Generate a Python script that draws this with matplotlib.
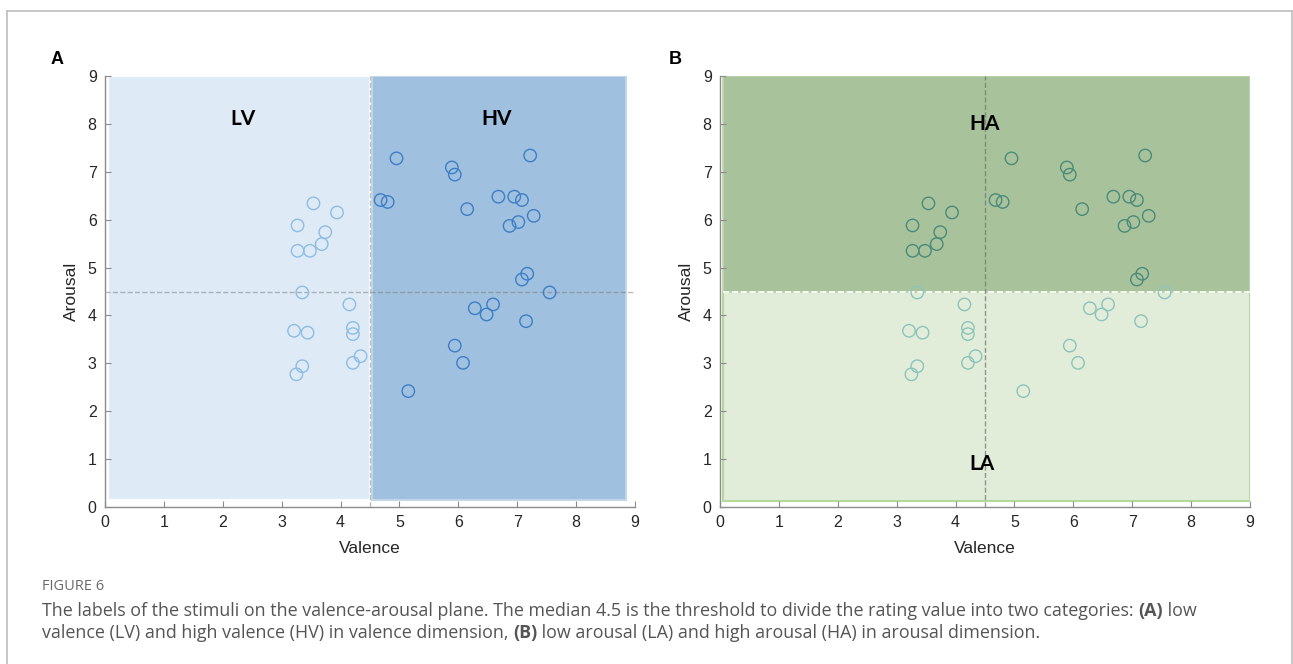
import matplotlib
matplotlib.use('Agg')
import matplotlib.pyplot as plt
from matplotlib.patches import Rectangle
from matplotlib.lines import Line2D

# Оценки стимулов (valence, arousal)
valence = [3.54, 3.94, 3.27, 3.74, 3.68, 3.27, 3.48, 3.35, 4.15, 3.21,
           3.44, 4.21, 4.21, 4.34, 4.21, 3.35, 3.25, 5.15, 4.95, 5.89,
           5.94, 7.22, 4.68, 4.80, 6.15, 6.68, 6.95, 7.08, 7.28, 6.87,
           7.02, 7.17, 7.08, 7.55, 6.59, 6.28, 6.48, 7.15, 5.94, 6.08]
arousal = [6.34, 6.15, 5.88, 5.74, 5.49, 5.35, 5.35, 4.48, 4.23, 3.68,
           3.64, 3.74, 3.61, 3.15, 3.01, 2.94, 2.77, 2.42, 7.28, 7.09,
           6.94, 7.34, 6.41, 6.37, 6.22, 6.48, 6.48, 6.41, 6.08, 5.87,
           5.95, 4.87, 4.75, 4.48, 4.23, 4.15, 4.02, 3.88, 3.37, 3.01]
threshold = 4.5
ticks = list(range(10))

W, H = 1293, 664
fig = plt.figure(figsize=(W / 100, H / 100), dpi=100)

# Рамка вокруг рисунка
frame = dict(color='#bdbdbd', linewidth=1.2, transform=fig.transFigure)
fig.add_artist(Line2D([7 / W, 1292 / W], [1 - 11 / H] * 2, **frame))
fig.add_artist(Line2D([7 / W] * 2, [0, 1 - 11 / H], **frame))
fig.add_artist(Line2D([1292 / W] * 2, [0, 1 - 11 / H], **frame))


def setup_axes(ax):
    ax.set_xlim(0, 9)
    ax.set_ylim(0, 9)
    ax.set_xticks(ticks)
    ax.set_yticks(ticks)
    for s in ['top', 'right']:
        ax.spines[s].set_visible(False)
    for s in ['left', 'bottom']:
        ax.spines[s].set_color('#8c8c8c')
        ax.spines[s].set_linewidth(1.0)
    ax.tick_params(direction='in', length=4, color='#8c8c8c', labelsize=11.5,
                   labelcolor='#262626', pad=6)
    for lab in ax.get_xticklabels() + ax.get_yticklabels():
        lab.set_family('Liberation Sans')
    ax.set_xlabel('Valence', fontsize=12.5, family='Liberation Sans', color='#262626', labelpad=8)
    ax.set_ylabel('Arousal', fontsize=12.5, family='Liberation Sans', color='#262626', labelpad=6)


ax_l = 105 / W
ax_b = 1 - 507 / H
ax_w = 530 / W
ax_h = 431 / H

# Панель A: разделение по валентности
ax1 = fig.add_axes([ax_l, ax_b, ax_w, ax_h])
setup_axes(ax1)
ax1.add_patch(Rectangle((0.05, 0.15), threshold - 0.05, 8.85, facecolor='#deebf6',
                        edgecolor='white', linewidth=1.5, zorder=0))
ax1.add_patch(Rectangle((threshold + 0.04, 0.15), 8.85 - threshold - 0.04, 8.85, facecolor='#9fc0de',
                        edgecolor='#c3d7ea', linewidth=1.5, zorder=0))
ax1.axvline(threshold, color='#bcbcbc', linestyle='--', linewidth=1, zorder=1)
ax1.axhline(threshold, color='#808080', alpha=0.55, linestyle='--', linewidth=1, zorder=1)
low_v = [(v, a) for v, a in zip(valence, arousal) if v < threshold]
high_v = [(v, a) for v, a in zip(valence, arousal) if v >= threshold]
ax1.scatter([p[0] for p in low_v], [p[1] for p in low_v], s=80, facecolors='none',
            edgecolors='#8dbce4', linewidths=1.0, zorder=3)
ax1.scatter([p[0] for p in high_v], [p[1] for p in high_v], s=80, facecolors='none',
            edgecolors='#3d7ec6', linewidths=1.0, zorder=3)
ax1.text(2.35, 8.1, 'LV', fontsize=15, fontweight='bold', family='Lato', ha='center', va='center')
ax1.text(6.65, 8.1, 'HV', fontsize=15, fontweight='bold', family='Lato', ha='center', va='center')
fig.text(57 / W, 1 - 60 / H, 'A', fontsize=13, fontweight='bold', family='Liberation Sans',
         ha='center', va='center')

# Панель B: разделение по возбуждению
ax2 = fig.add_axes([720 / W, ax_b, ax_w, ax_h])
setup_axes(ax2)
ax2.add_patch(Rectangle((0.05, 0.12), 8.95, threshold - 0.12, facecolor='#e1edd8',
                        edgecolor='#b5d89e', linewidth=1.5, zorder=0))
ax2.add_patch(Rectangle((0.05, threshold), 8.95, 9 - threshold, facecolor='#a8c39b',
                        edgecolor='#bcd6ad', linewidth=1.2, zorder=0))
ax2.axhline(threshold, xmin=0.006, color='white', linestyle='--', linewidth=1.2, zorder=1)
ax2.axvline(threshold, color='#6f6f6f', alpha=0.7, linestyle='--', linewidth=1, zorder=1)
low_a = [(v, a) for v, a in zip(valence, arousal) if a < threshold]
high_a = [(v, a) for v, a in zip(valence, arousal) if a >= threshold]
ax2.scatter([p[0] for p in low_a], [p[1] for p in low_a], s=80, facecolors='none',
            edgecolors='#8cc3bb', linewidths=1.0, zorder=3)
ax2.scatter([p[0] for p in high_a], [p[1] for p in high_a], s=80, facecolors='none',
            edgecolors='#4a8a7a', linewidths=1.0, zorder=3)
ax2.text(4.5, 8.0, 'HA', fontsize=15, fontweight='bold', family='Lato', ha='center', va='center')
ax2.text(4.45, 0.9, 'LA', fontsize=15, fontweight='bold', family='Lato', ha='center', va='center')
fig.text(675 / W, 1 - 60 / H, 'B', fontsize=13, fontweight='bold', family='Liberation Sans',
         ha='center', va='center')

# Подпись к рисунку
cap_color = '#555555'
fig.text(42 / W, 1 - 587 / H, 'FIGURE 6', fontsize=10.5, family='Open Sans', color='#6a6a6a',
         va='center')

caption = [
    [('The labels of the stimuli on the valence-arousal plane. The median 4.5 is the threshold '
      'to divide the rating value into two categories: ', 'normal'), ('(A)', 'bold'), (' low', 'normal')],
    [('valence (LV) and high valence (HV) in valence dimension, ', 'normal'), ('(B)', 'bold'),
     (' low arousal (LA) and high arousal (HA) in arousal dimension.', 'normal')],
]
renderer = fig.canvas.get_renderer()
for i, line in enumerate(caption):
    x = 42 / W
    y = 1 - (611 + 22 * i) / H
    for txt, weight in line:
        t = fig.text(x, y, txt, fontsize=12.85, family='Open Sans', fontweight=weight,
                     color=cap_color, va='center')
        bb = t.get_window_extent(renderer=renderer)
        x += bb.width / W

fig.savefig('out.png', dpi=100)
